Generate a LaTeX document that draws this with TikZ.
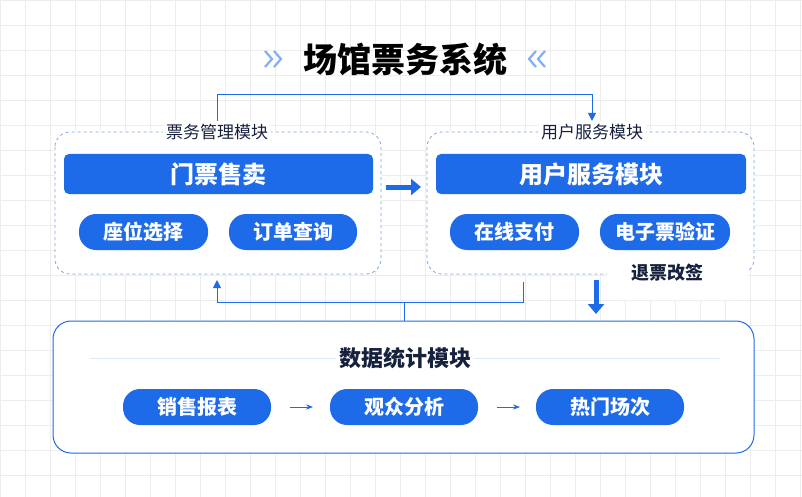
\documentclass[tikz,border=0pt]{standalone}
\usepackage{fontspec}
\setmainfont{Noto Sans CJK SC}
\usetikzlibrary{arrows.meta}
\definecolor{bl}{HTML}{1E6BEA}
\definecolor{bd}{HTML}{7FA7E8}
\definecolor{ink}{HTML}{16213E}
\begin{document}
\begin{tikzpicture}[x=1pt,y=-1pt,
 bar/.style={fill=bl,rounded corners=5pt,text=white,font=\fontsize{24}{24}\selectfont\bfseries},
 pill/.style={fill=bl,rounded corners=17pt,text=white,font=\fontsize{20}{20}\selectfont\bfseries},
 grp/.style={draw=bd,dashed,fill=white,rounded corners=15pt,line width=0.8pt},
 lab/.style={fill=white,text=ink,font=\fontsize{17}{17}\selectfont,inner sep=3pt},
 conn/.style={draw=bl,line width=1pt},
 tip/.style={-{Triangle[length=8pt,width=8pt]}},
 chev/.style={draw=bl!55,line width=2.2pt},
 fat/.style={draw=bl,line width=5pt,-{Triangle[length=10pt,width=16pt]}}]
\fill[white!95!blue!3] (0,0) rectangle (802,497);
\useasboundingbox (0,0) rectangle (802,497);
\foreach \x in {0,25,...,800} \draw[black!7,line width=0.6pt] (\x,0) -- (\x,497);
\foreach \y in {0,25,...,500} \draw[black!7,line width=0.6pt] (0,\y) -- (802,\y);
\node[font=\fontsize{34}{34}\selectfont\bfseries,text=black] (title) at (405,60) {场馆票务系统};
\foreach \d in {0,9}{
 \draw[chev] (265+\d,51) -- (272+\d,59) -- (265+\d,67);
 \draw[chev] (545-\d,51) -- (538-\d,59) -- (545-\d,67);}
% groups
\draw[grp] (55,132) rectangle (381,274);
\draw[grp] (427,132) rectangle (754,274);
\node[lab] (gl) at (217,132) {票务管理模块};
\node[lab] (gr) at (592,132) {用户服务模块};
\node[bar,minimum width=309pt,minimum height=40pt] (sell) at (218.5,174) {门票售卖};
\node[bar,minimum width=310pt,minimum height=40pt] (usr) at (591,174) {用户服务模块};
\node[pill,minimum width=129pt,minimum height=36pt] (seat) at (143.5,232) {座位选择};
\node[pill,minimum width=128pt,minimum height=36pt] (order) at (293,232) {订单查询};
\node[pill,minimum width=129pt,minimum height=36pt] (pay) at (514.5,232) {在线支付};
\node[pill,minimum width=130pt,minimum height=36pt] (eticket) at (665,232) {电子票验证};
\fill[white,rounded corners=8pt] (607,262) rectangle (748,300);
\node[text=ink,font=\fontsize{18}{18}\selectfont\bfseries] (refund) at (667,273) {退票改签};
% data box
\draw[draw=bl,line width=1pt,fill=white,rounded corners=18pt] (53,321) rectangle (754,453);
\draw[bl!15,line width=0.6pt] (90,358) -- (720,358);
\node[fill=white,text=ink,font=\fontsize{22}{22}\selectfont\bfseries] (data) at (405,358) {数据统计模块};
\node[pill,minimum width=148pt,minimum height=36pt] (sales) at (197,407) {销售报表};
\node[pill,minimum width=148pt,minimum height=36pt] (aud) at (404,407) {观众分析};
\node[pill,minimum width=148pt,minimum height=36pt] (hot) at (610,407) {热门场次};
\draw[conn,-{Stealth[length=7pt]}] (290,407) -- (313,407);
\draw[conn,-{Stealth[length=7pt]}] (497,407) -- (520,407);
% connectors
\coordinate (t1) at (217,95); \coordinate (t2) at (592,95);
\draw[conn,tip] (gl.north) -- (t1) -- (t2) -- (gr.north);
\coordinate (b0) at (523,282); \coordinate (b1) at (523,302); \coordinate (b2) at (217,302);
\coordinate (a1) at (217,280);
\draw[conn,tip] (b0) -- (b1) -- (b2) -- (a1);
\coordinate (m1) at (404,302); \coordinate (m2) at (404,321);
\draw[conn] (m1) -- (m2);
\coordinate (f1) at (386,187); \coordinate (f2) at (421,187);
\draw[fat] (f1) -- (f2);
\coordinate (d1) at (596,280); \coordinate (d2) at (596,314);
\draw[fat] (d1) -- (d2);
\end{tikzpicture}
\end{document}
